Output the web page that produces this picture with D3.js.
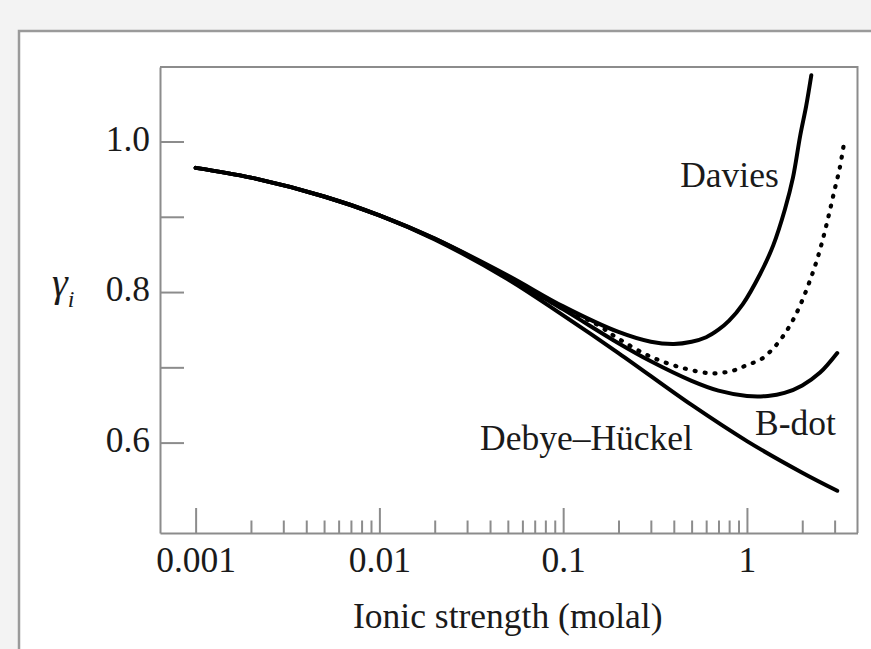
<!DOCTYPE html>
<html>
<head>
<meta charset="utf-8">
<script src="https://cdn.jsdelivr.net/npm/d3@7"></script>
<style>
    body { margin: 0; background: #f3f3f3; }
    svg { display: block; }
    .axis path, .axis line { stroke: #8c8c8c; stroke-width: 2; }
    .axis text { font-family: "Liberation Serif", "Times New Roman", serif; font-size: 35.5px; fill: #1a1a1a; }
    .lbl { font-family: "Liberation Serif", "Times New Roman", serif; font-size: 35.5px; fill: #1a1a1a; }
</style>
</head>
<body>
<div id="chart"></div>
<script>
// values (ionic strength in molal, activity coefficient)
const debyeHuckelI = [0.001, 0.002, 0.005, 0.01, 0.02, 0.05, 0.1, 0.2, 0.5, 1, 2, 3.1];
const debyeHuckelGamma = [0.965, 0.952, 0.927, 0.902, 0.870, 0.817, 0.769, 0.719, 0.650, 0.602, 0.560, 0.536];

const daviesI = [0.001, 0.002, 0.005, 0.01, 0.02, 0.05, 0.1, 0.2, 0.3, 0.4, 0.5, 0.6, 0.7, 0.8, 0.95, 1.18, 1.39, 1.61, 1.78, 1.95, 2.1, 2.24];
const daviesGamma = [0.965, 0.952, 0.927, 0.902, 0.871, 0.822, 0.781, 0.747, 0.734, 0.731, 0.734, 0.740, 0.750, 0.762, 0.784, 0.824, 0.862, 0.910, 0.952, 1.008, 1.047, 1.088];

const bdotI = [0.001, 0.002, 0.005, 0.01, 0.02, 0.05, 0.1, 0.2, 0.3, 0.5, 0.7, 1, 1.3, 1.6, 2, 2.5, 3.1];
const bdotGamma = [0.965, 0.952, 0.927, 0.902, 0.871, 0.820, 0.777, 0.732, 0.708, 0.682, 0.669, 0.662, 0.662, 0.666, 0.676, 0.693, 0.719];

const dottedI = [0.05, 0.1, 0.15, 0.2, 0.3, 0.45, 0.65, 0.85, 1, 1.2, 1.4, 1.6, 1.8, 2, 2.2, 2.4, 2.6, 2.8, 3, 3.2, 3.35];
const dottedGamma = [0.820, 0.778, 0.758, 0.738, 0.714, 0.699, 0.692, 0.696, 0.703, 0.711, 0.726, 0.744, 0.765, 0.789, 0.815, 0.842, 0.872, 0.904, 0.936, 0.965, 0.993];

const xTickValues = [0.001, 0.01, 0.1, 1];
const xTickLabels = ["0.001", "0.01", "0.1", "1"];
const xMinorTicks = [0.002, 0.003, 0.004, 0.005, 0.006, 0.007, 0.008, 0.009,
    0.02, 0.03, 0.04, 0.05, 0.06, 0.07, 0.08, 0.09,
    0.2, 0.3, 0.4, 0.5, 0.6, 0.7, 0.8, 0.9, 2, 3];
const yTickValues = [0.6, 0.7, 0.8, 0.9, 1.0];
const yTickLabels = ["0.6", "", "0.8", "", "1.0"];

const curveLabels = [
    {text: "Davies", I: 0.433, g: 0.94},
    {text: "B-dot", I: 1.108, g: 0.6105},
    {text: "Debye\u2013H\u00fcckel", I: 0.0353, g: 0.5896}
];

const width = 871, height = 649;
const box = {left: 160, right: 857.5, top: 67, bottom: 533};

const svg = d3.select("#chart").append("svg")
    .attr("width", width)
    .attr("height", height);

// white panel
svg.append("rect")
    .attr("x", 19).attr("y", 31)
    .attr("width", 1000).attr("height", 1000)
    .attr("fill", "white")
    .attr("stroke", "#9a9a9a")
    .attr("stroke-width", 2.5);

const x = d3.scaleLog().domain([0.00064, 3.996]).range([box.left, box.right]);
const y = d3.scaleLinear().domain([0.4799, 1.099]).range([box.bottom, box.top]);

// frame top/right
svg.append("path")
    .attr("d", `M${box.left},${box.top}H${box.right}V${box.bottom}`)
    .attr("fill", "none")
    .attr("stroke", "#8c8c8c")
    .attr("stroke-width", 2);

svg.append("g").attr("class", "axis")
    .attr("transform", `translate(0,${box.bottom})`)
    .call(d3.axisBottom(x).tickValues(xMinorTicks).tickSizeInner(-12.5).tickSizeOuter(0).tickFormat(""))
    .call(g => g.select(".domain").remove());

svg.append("g").attr("class", "axis")
    .attr("transform", `translate(0,${box.bottom})`)
    .call(d3.axisBottom(x).tickValues(xTickValues).tickSizeInner(-25).tickSizeOuter(0).tickPadding(14)
        .tickFormat((d, i) => xTickLabels[i]));

svg.append("g").attr("class", "axis")
    .attr("transform", `translate(${box.left},0)`)
    .call(d3.axisLeft(y).tickValues(yTickValues).tickSizeInner(-24).tickSizeOuter(0).tickPadding(10)
        .tickFormat((d, i) => yTickLabels[i]))
    .call(g => g.selectAll("text").attr("dy", "0.24em"));

svg.selectAll(".axis text").attr("fill", "#1a1a1a");

const line = d3.line()
    .x(d => x(d[0]))
    .y(d => y(d[1]))
    .curve(d3.curveCatmullRom.alpha(0.5));

const zip = (a, b) => a.map((v, i) => [v, b[i]]);

[[debyeHuckelI, debyeHuckelGamma], [daviesI, daviesGamma], [bdotI, bdotGamma]].forEach(s => {
    svg.append("path")
        .attr("d", line(zip(s[0], s[1])))
        .attr("fill", "none")
        .attr("stroke", "black")
        .attr("stroke-width", 4)
        .attr("stroke-linecap", "round");
});

svg.append("path")
    .attr("d", line(zip(dottedI, dottedGamma)))
    .attr("fill", "none")
    .attr("stroke", "black")
    .attr("stroke-width", 4.2)
    .attr("stroke-linecap", "round")
    .attr("stroke-dasharray", "1 9");

curveLabels.forEach(l => {
    svg.append("text").attr("class", "lbl")
        .attr("x", x(l.I)).attr("y", y(l.g))
        .text(l.text);
});

// axis titles
svg.append("text").attr("class", "lbl")
    .attr("x", 353).attr("y", 628)
    .text("Ionic strength (molal)");

const yt = svg.append("text").attr("class", "lbl")
    .attr("x", 52).attr("y", 296);
yt.append("tspan").attr("font-size", 40).attr("font-style", "italic").text("\u03b3");
yt.append("tspan").attr("font-size", 24).attr("font-style", "italic").attr("dy", 11).text("i");
</script>
</body>
</html>
